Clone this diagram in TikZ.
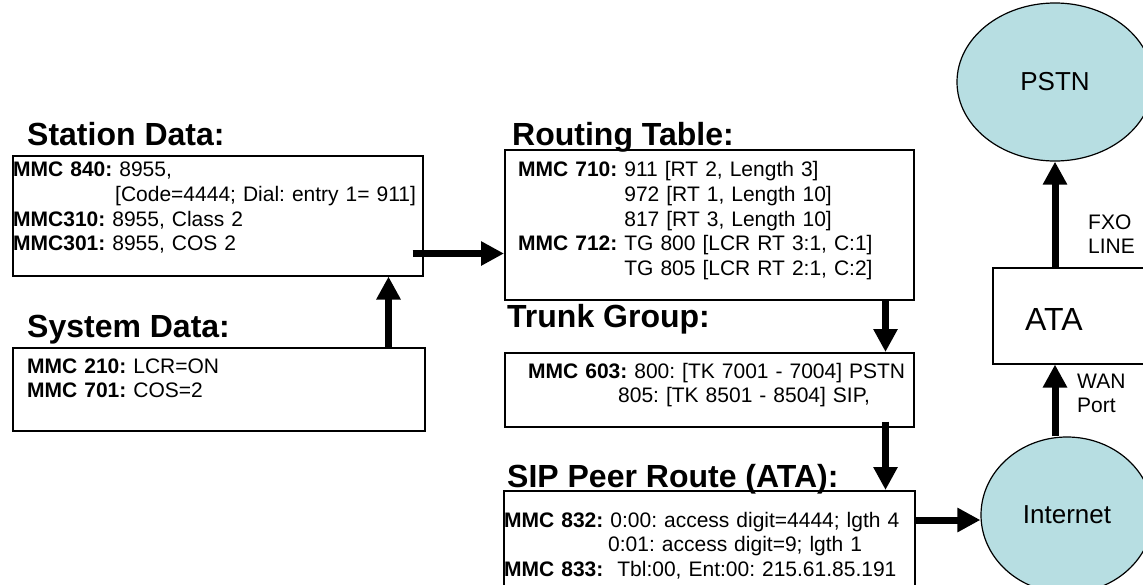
\documentclass[tikz,border=0pt]{standalone}
\usepackage{fontspec}
\setmainfont{Liberation Sans}
\usetikzlibrary{arrows.meta,shapes.geometric,positioning}
\definecolor{cloudblue}{RGB}{183,222,226}
\tikzset{
  frame/.style={draw, line width=1.5pt, inner sep=0pt, anchor=north west},
  title/.style={font=\fontsize{32}{38}\selectfont\bfseries, anchor=base west, inner sep=0pt},
  mmc/.style={font=\fontsize{21}{24.7}\selectfont\frenchspacing, anchor=base west, inner sep=0pt, align=left, text width=#1},
  side/.style={font=\fontsize{21}{24.7}\selectfont, anchor=base west, inner sep=0pt, align=left, text width=60pt},
  cloud/.style={ellipse, draw, line width=1.2pt, fill=cloudblue, inner sep=0pt, font=\fontsize{26}{30}\selectfont},
  arr/.style={line width=7pt, -{Triangle[width=23pt,length=23pt]}}
}
\begin{document}
\begin{tikzpicture}[x=1pt,y=-1pt]
\useasboundingbox (0,0) rectangle (1143,584);
\node[frame, minimum width=410pt, minimum height=120pt] (station) at (12,155) {};
\node[frame, minimum width=412pt, minimum height=83pt] (system) at (12,347) {};
\node[frame, minimum width=409pt, minimum height=150pt] (routing) at (504,149) {};
\node[frame, minimum width=409pt, minimum height=74pt] (trunk) at (504,352) {};
\node[frame, minimum width=411pt, minimum height=120pt] (sip) at (503,490) {};
\node[frame, minimum width=160pt, minimum height=96pt] (ata) at (992,267) {};
\node[cloud, minimum width=196pt, minimum height=158pt] (pstn) at (1055,82) {PSTN};
\node[cloud, minimum width=172pt, minimum height=156pt] (internet) at (1067,515) {Internet};
\node[title] (stationttl) at (27,145) {Station Data:};
\node[title] (systemttl) at (27,337) {System Data:};
\node[title] (routingttl) at (512,145) {Routing Table:};
\node[title] (trunkttl) at (507,327) {Trunk Group:};
\node[title] (sipttl) at (507,487) {SIP Peer Route (ATA):};
\node[mmc=430pt] (stationtxt) at (13,176.7) {\textbf{MMC 840:} 8955,\\
\hspace*{102pt}[Code=4444; Dial: entry 1= 911]\\
\textbf{MMC310:} 8955, Class 2\\
\textbf{MMC301:} 8955, COS 2};
\node[mmc=390pt] (systemtxt) at (27,373) {\textbf{MMC 210:} LCR=ON\\
\textbf{MMC 701:} COS=2};
\node[mmc=400pt] (routingtxt) at (518,176.7) {\textbf{MMC 710:} 911 [RT 2, Length 3]\\
\phantom{\textbf{MMC 710:} }972 [RT 1, Length 10]\\
\phantom{\textbf{MMC 710:} }817 [RT 3, Length 10]\\
\textbf{MMC 712:} TG 800 [LCR RT 3:1, C:1]\\
\phantom{\textbf{MMC 712:} }TG 805 [LCR RT 2:1, C:2]};
\node[mmc=400pt] (trunktxt) at (528,378) {\textbf{MMC 603:} 800: [TK 7001 - 7004] PSTN\\
\hspace*{90pt}805: [TK 8501 - 8504] SIP,};
\node[mmc=430pt] (siptxt) at (504,527) {\textbf{MMC 832:} 0:00: access digit=4444; lgth 4\\
\hspace*{104pt}0:01: access digit=9; lgth 1\\
\textbf{MMC 833:}\ \ Tbl:00, Ent:00: 215.61.85.191};
\node[font=\fontsize{32}{38}\selectfont, anchor=base west, inner sep=0pt] (atatxt) at (1025,330) {ATA};
\node[side] (fxo) at (1088,229) {FXO\\LINE};
\node[side] (wan) at (1077,388) {WAN\\Port};
\draw[arr] ([shift={(-11,-23)}]station.south east) coordinate (s1) -- (s1 -| routing.west);
\draw[arr] ([xshift=-37pt]system.north east) coordinate (u1) -- (u1 |- station.south);
\draw[arr] ([xshift=-29pt]routing.south east) coordinate (d1) -- (d1 |- trunk.north);
\draw[arr] ([shift={(-29,-6)}]trunk.south east) coordinate (d2) -- (d2 |- sip.north);
\draw[arr] ([yshift=-30pt]sip.north east) coordinate (r1) -- (r1 -| internet.west);
\draw[arr] (internet.north -| pstn.south) coordinate (w1) -- (w1 |- ata.south);
\draw[arr] (ata.north -| pstn.south) -- (pstn.south);
\end{tikzpicture}
\end{document}
